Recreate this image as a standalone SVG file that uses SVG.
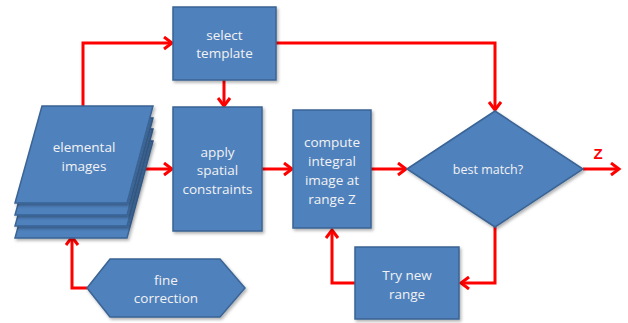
<svg xmlns="http://www.w3.org/2000/svg" width="628" height="323" viewBox="0 0 628 323">
<defs>
<marker id="ah" markerUnits="userSpaceOnUse" markerWidth="14" markerHeight="16" refX="11" refY="7" orient="auto">
<path d="M3,1 L11,7 L3,13" fill="none" stroke="#FF0000" stroke-width="3"/>
</marker>
<filter id="sh" x="-10%" y="-10%" width="130%" height="130%">
<feDropShadow dx="1.5" dy="2" stdDeviation="1.5" flood-color="#000" flood-opacity="0.3"/>
</filter>
</defs>
<style>
.n{fill:#4F81BD;stroke:#3A6494;stroke-width:1.5;filter:url(#sh)}
.t{font-family:"Open Sans","Liberation Sans",sans-serif;font-size:13.5px;fill:#F2F2F2;text-anchor:middle}
.c{fill:none;stroke:#FF0000;stroke-width:3;marker-end:url(#ah)}
</style>
<rect width="628" height="323" fill="#fff"/>
<g id="connectors">
<path class="c" d="M83,106 V43 H172"/>
<path class="c" d="M224,80 V106"/>
<path class="c" d="M276,43 H495 V110"/>
<path class="c" d="M143,169 H172"/>
<path class="c" d="M262,169 H292"/>
<path class="c" d="M371,169 H406"/>
<path class="c" d="M583,169 H619"/>
<path class="c" d="M495,227 V283 H461"/>
<path class="c" d="M355,283 H332 V230"/>
<path class="c" d="M87,288 H72 V237"/>
<text x="598" y="159" font-family="'Liberation Sans',sans-serif" font-size="15" font-weight="bold" fill="#FF0000" text-anchor="middle">Z</text>
</g>
<g id="elemental-images">
<polygon class="n" points="42,141 153,141 127,238 15,238"/>
<polygon class="n" points="42,129 153,129 127,226 15,226"/>
<polygon class="n" points="42,118 153,118 127,215 15,215"/>
<polygon class="n" points="42,106 153,106 127,203 15,203"/>
<text class="t" x="84" y="152">elemental</text>
<text class="t" x="84" y="171">images</text>
</g>
<g id="select-template">
<rect class="n" x="173" y="7" width="103" height="73"/>
<text class="t" x="224.5" y="40">select</text>
<text class="t" x="224.5" y="58">template</text>
</g>
<g id="apply-spatial-constraints">
<rect class="n" x="173" y="107" width="89" height="124"/>
<text class="t" x="217.5" y="157">apply</text>
<text class="t" x="217.5" y="175">spatial</text>
<text class="t" x="217.5" y="194">constraints</text>
</g>
<g id="compute-integral">
<rect class="n" x="293" y="110" width="78" height="118"/>
<text class="t" x="332" y="147">compute</text>
<text class="t" x="332" y="166">integral</text>
<text class="t" x="332" y="185">image at</text>
<text class="t" x="332" y="204">range Z</text>
</g>
<g id="best-match">
<polygon class="n" points="407,169 495,111 583,169 495,227"/>
<text class="t" x="488" y="174" style="font-size:12.5px">best match?</text>
</g>
<g id="try-new-range">
<rect class="n" x="355" y="247" width="104" height="72"/>
<text class="t" x="407" y="280">Try new</text>
<text class="t" x="407" y="299">range</text>
</g>
<g id="fine-correction">
<polygon class="n" points="87,288 110,259 220,259 245,288 220,317 110,317"/>
<text class="t" x="166" y="285">fine</text>
<text class="t" x="166" y="303">correction</text>
</g>
</svg>
